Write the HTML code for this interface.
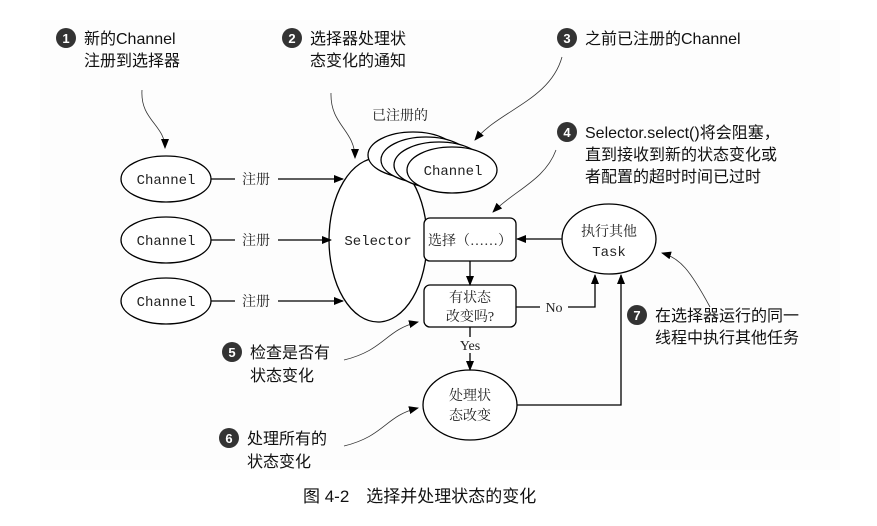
<!DOCTYPE html>
<html><head><meta charset="utf-8"><style>
html,body{margin:0;padding:0;background:#fff;}
svg{display:block}
.s{font-family:"Liberation Sans","Noto Sans CJK SC",sans-serif;font-size:16px;fill:#111}
.m{font-family:"Liberation Mono",monospace;font-size:14px;fill:#222}
.r{font-family:"Liberation Serif","Noto Serif CJK SC",serif;font-size:14px;fill:#222}
.n{font-family:"Liberation Sans",sans-serif;font-size:13px;fill:#fff;font-weight:bold}
</style></head><body>
<svg width="877" height="526" viewBox="0 0 877 526" xmlns="http://www.w3.org/2000/svg">
<defs><marker id="a" markerWidth="10" markerHeight="8" refX="9" refY="4" orient="auto" markerUnits="userSpaceOnUse"><path d="M0,0 L10,4 L0,8 z" fill="#000"/></marker></defs>
<rect x="40" y="20" width="800" height="450" fill="#fdfdfd"/>
<g fill="#fff" stroke="#000" stroke-width="1.3">
<ellipse cx="166" cy="179" rx="45" ry="23"/>
<ellipse cx="166" cy="240" rx="45" ry="23"/>
<ellipse cx="166" cy="301" rx="45" ry="23"/>
<ellipse cx="378" cy="240" rx="49" ry="82"/>
<ellipse cx="413" cy="155" rx="45" ry="23"/>
<ellipse cx="426" cy="160" rx="45" ry="23"/>
<ellipse cx="439" cy="165" rx="45" ry="23"/>
<ellipse cx="452" cy="170" rx="45" ry="23"/>
<rect x="424" y="218" width="92" height="43" rx="6"/>
<rect x="424" y="285" width="92" height="42" rx="6"/>
<ellipse cx="470" cy="405" rx="47" ry="35"/>
<ellipse cx="609" cy="239" rx="47" ry="35"/>
</g>
<g stroke="#000" stroke-width="1.3" fill="none">
<line x1="211" y1="179" x2="235" y2="179"/><line x1="278" y1="179" x2="343" y2="179" marker-end="url(#a)"/>
<line x1="211" y1="240" x2="235" y2="240"/><line x1="278" y1="240" x2="331" y2="240" marker-end="url(#a)"/>
<line x1="211" y1="301" x2="235" y2="301"/><line x1="278" y1="301" x2="343" y2="301" marker-end="url(#a)"/>
<line x1="562" y1="239" x2="517" y2="239" marker-end="url(#a)"/>
<line x1="470" y1="261" x2="470" y2="285" marker-end="url(#a)"/>
<polyline points="516,307 540,307"/><polyline points="568,307 595,307 595,275" marker-end="url(#a)"/>
<line x1="470" y1="327" x2="470" y2="337"/><line x1="470" y1="353" x2="470" y2="370" marker-end="url(#a)"/>
<polyline points="517,405 621,405 621,275" marker-end="url(#a)"/>
</g>
<g stroke="#333" stroke-width="0.8" fill="none">
<path d="M142,90 C140,120 165,125 165,148" marker-end="url(#a)"/>
<path d="M331,93 C330,125 355,130 355,158" marker-end="url(#a)"/>
<path d="M562,57 C550,100 500,110 475,140" marker-end="url(#a)"/>
<path d="M556,150 C545,180 515,190 493,212" marker-end="url(#a)"/>
<path d="M344,360 C385,350 385,330 418,322" marker-end="url(#a)"/>
<path d="M344,446 C385,436 385,416 418,408" marker-end="url(#a)"/>
<path d="M710,307 C690,270 680,258 662,253" marker-end="url(#a)"/>
</g>
<g class="m" text-anchor="middle">
<text x="166" y="184">Channel</text><text x="166" y="245">Channel</text><text x="166" y="306">Channel</text>
<text x="378" y="245">Selector</text><text x="453" y="175">Channel</text><text x="609" y="256">Task</text>
</g>
<g class="r" text-anchor="middle">
<text x="256" y="184">注册</text><text x="256" y="245">注册</text><text x="256" y="306">注册</text>
<text x="470" y="245">选择（……）</text>
<text x="470" y="302">有状态</text><text x="470" y="321">改变吗?</text>
<text x="470" y="400">处理状</text><text x="470" y="420">态改变</text>
<text x="609" y="236">执行其他</text>
<text x="554" y="312">No</text><text x="470" y="350">Yes</text>
<text x="400" y="120">已注册的</text>
</g>
<g fill="#333">
<circle cx="66" cy="38" r="10"/><circle cx="292" cy="38" r="10"/><circle cx="567" cy="38" r="10"/><circle cx="567" cy="132" r="10"/>
<circle cx="232" cy="352" r="10"/><circle cx="229" cy="438" r="10"/><circle cx="637" cy="315" r="10"/>
</g>
<g class="n" text-anchor="middle">
<text x="66" y="43">1</text><text x="292" y="43">2</text><text x="567" y="43">3</text><text x="567" y="137">4</text>
<text x="232" y="357">5</text><text x="229" y="443">6</text><text x="637" y="320">7</text>
</g>
<g class="s">
<text x="84" y="44">新的Channel</text><text x="84" y="66">注册到选择器</text>
<text x="310" y="44">选择器处理状</text><text x="310" y="66">态变化的通知</text>
<text x="585" y="44">之前已注册的Channel</text>
<text x="585" y="138">Selector.select()将会阻塞，</text><text x="585" y="160">直到接收到新的状态变化或</text><text x="585" y="182">者配置的超时时间已过时</text>
<text x="250" y="358">检查是否有</text><text x="250" y="381">状态变化</text>
<text x="247" y="444">处理所有的</text><text x="247" y="467">状态变化</text>
<text x="655" y="321">在选择器运行的同一</text><text x="655" y="343">线程中执行其他任务</text>
<text x="303" y="502" style="font-size:17px">图 4-2　选择并处理状态的变化</text>
</g>
</svg>
</body></html>
